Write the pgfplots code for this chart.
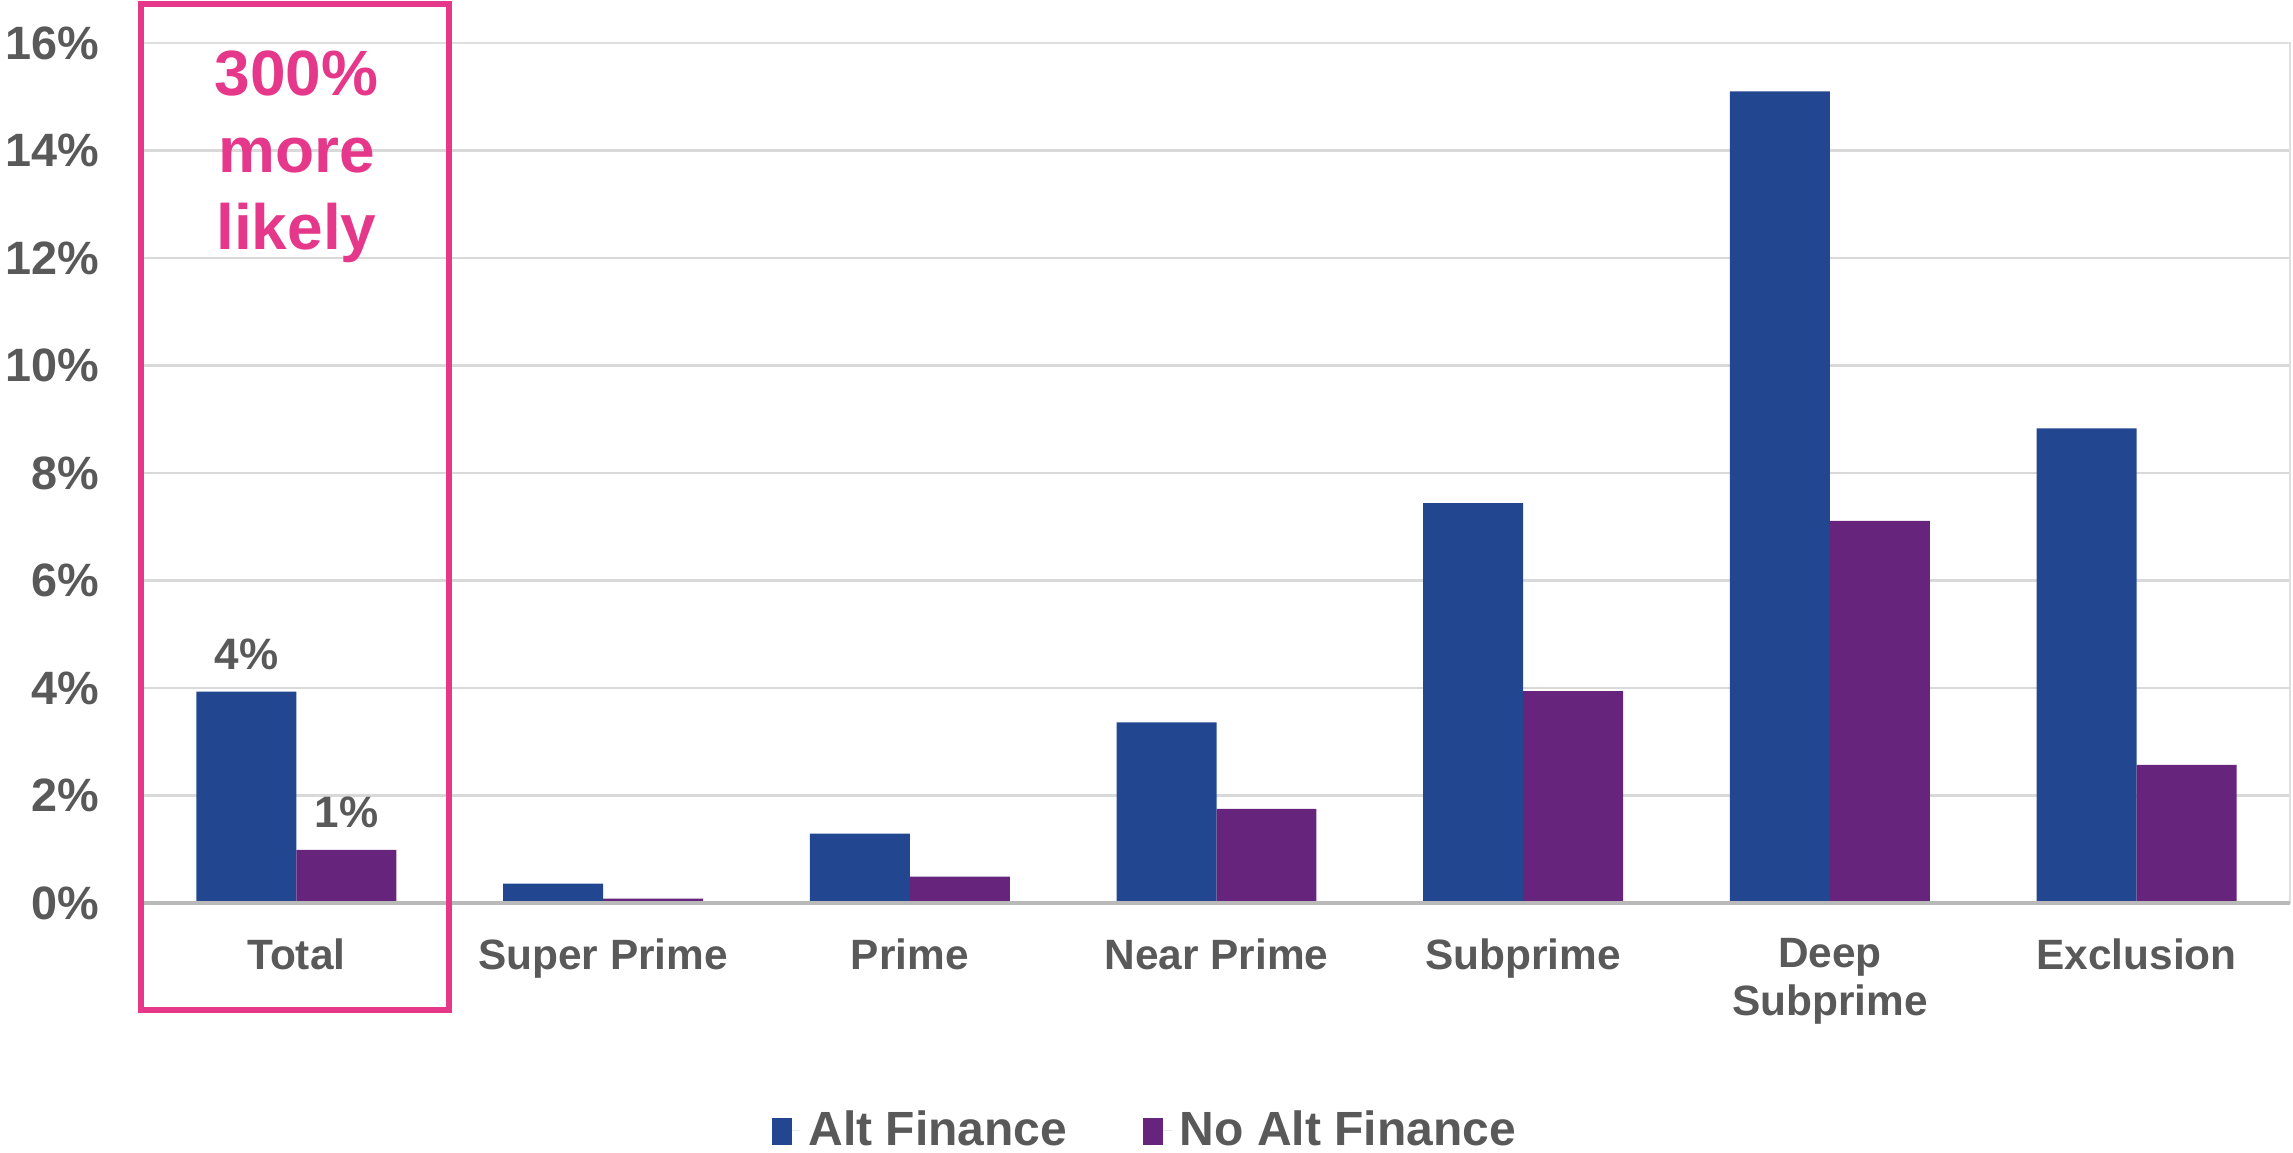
\documentclass[border=0pt]{standalone}
\usepackage{pgfplots}
\pgfplotsset{compat=1.18}
\usepackage{pgfplotstable}
\usepackage{fontspec}
\setmainfont{Liberation Sans}

\definecolor{altblue}{RGB}{35,70,145}
\definecolor{noaltpurple}{RGB}{102,36,124}
\definecolor{accentpink}{RGB}{230,56,138}
\definecolor{labelgray}{HTML}{595959}
\definecolor{gridgray}{HTML}{D9D9D9}

% share of consumers (%) by credit tier
\pgfplotstableread{
pos alt   noalt
0   3.93  0.99
1   0.36  0.08
2   1.29  0.49
3   3.36  1.75
4   7.44  3.94
5   15.10 7.11
6   8.83  2.57
}\tierdata

\begin{document}
\begin{tikzpicture}
\path[use as bounding box] (-35.75pt,-62.5pt) rectangle (537.5pt,225.75pt);
\begin{axis}[
  at={(0,0)}, anchor=south west,
  scale only axis, width=536.75pt, height=215pt,
  ybar=0pt, bar width=0.326,
  xmin=-0.5, xmax=6.5, ymin=0, ymax=16,
  clip=false,
  axis line style={draw=gray!25},
  major tick length=0pt,
  ymajorgrids, grid style={gridgray, line width=0.6pt},
  ytick={0,2,...,16},
  yticklabels={0\%,2\%,4\%,6\%,8\%,10\%,12\%,14\%,16\%},
  yticklabel style={font=\bfseries\fontsize{11.7}{14}\selectfont, text=labelgray,
    anchor=east, inner sep=0pt, xshift=-10.75pt},
  xtick={0,...,6},
  xticklabels={Total, Super Prime, Prime, Near Prime, Subprime, {Deep\\Subprime}, Exclusion},
  xticklabel style={font=\bfseries\fontsize{10.6}{12}\selectfont, text=labelgray,
    align=center, anchor=north, inner sep=0pt, yshift=-8.75pt},
  legend columns=2,
  legend image code/.code={\fill[#1] (0pt,-3.6pt) rectangle (5pt,3.2pt); \path (0pt,0pt) -- (7.2pt,0pt);},
  legend style={at={(0.468,-0.265)}, anchor=center, draw=none, fill=none,
    font=\bfseries\fontsize{12}{15}\selectfont, text=labelgray,
    /tikz/every even column/.append style={column sep=17pt}},
  every node near coord/.append style={font=\bfseries\fontsize{11}{13}\selectfont,
    text=labelgray, anchor=south, inner sep=0pt, yshift=5.2pt},
]
\addplot[fill=altblue, draw=none,
  point meta=y,
  visualization depends on={value \coordindex\as\idx},
  nodes near coords={\ifnum\idx=0 \pgfmathprintnumber[fixed,precision=0,assume math mode=true]{\pgfplotspointmeta}\%\fi}]
  table[x=pos, y=alt] {\tierdata};
\addlegendentry{Alt Finance}
\addplot[fill=noaltpurple, draw=none,
  point meta=y,
  visualization depends on={value \coordindex\as\idx},
  nodes near coords={\ifnum\idx=0 \pgfmathprintnumber[fixed,precision=0,assume math mode=true]{\pgfplotspointmeta}\%\fi}]
  table[x=pos, y=noalt] {\tierdata};
\addlegendentry{No Alt Finance}

% baseline
\draw[gray!55, line width=0.8pt] (axis cs:-0.5,0) -- (axis cs:6.5,0);
% highlight around the Total group
\draw[accentpink, line width=1.5pt] (axis cs:-0.5065,-1.99) rectangle (axis cs:0.4993,16.73);
\node[anchor=north, align=center, inner sep=0pt, text=accentpink,
  font=\bfseries\fontsize{16}{19.3}\selectfont] at (axis cs:0,15.87) {300\%\\more\\likely};
\end{axis}
\end{tikzpicture}
\end{document}
